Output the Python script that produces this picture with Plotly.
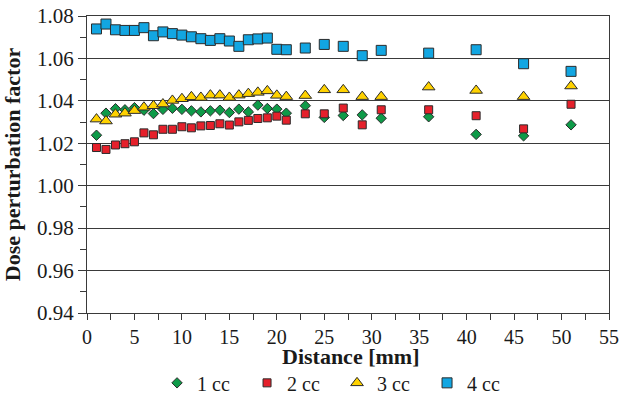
import plotly.graph_objects as go

distance = [1, 2, 3, 4, 5, 6, 7, 8, 9, 10, 11, 12, 13, 14, 15, 16, 17, 18, 19, 20, 21,
            23, 25, 27, 29, 31, 36, 41, 46, 51]

cc1 = [1.0238, 1.0342, 1.0363, 1.0358, 1.0368, 1.0356, 1.0340, 1.0360, 1.0365, 1.0360,
       1.0353, 1.0348, 1.0353, 1.0356, 1.0345, 1.0361, 1.0348, 1.0380, 1.0364, 1.0361,
       1.0342, 1.0377, 1.0322, 1.0331, 1.0334, 1.0318, 1.0325, 1.0242, 1.0235, 1.0287]

cc2 = [1.0180, 1.0171, 1.0192, 1.0198, 1.0207, 1.0249, 1.0240, 1.0266, 1.0266, 1.0278,
       1.0273, 1.0282, 1.0284, 1.0292, 1.0286, 1.0301, 1.0308, 1.0317, 1.0320, 1.0328,
       1.0309, 1.0339, 1.0339, 1.0366, 1.0287, 1.0358, 1.0358, 1.0330, 1.0268, 1.0384]

cc3 = [1.0314, 1.0305, 1.0337, 1.0342, 1.0354, 1.0370, 1.0377, 1.0385, 1.0402, 1.0410,
       1.0419, 1.0416, 1.0427, 1.0427, 1.0416, 1.0427, 1.0434, 1.0440, 1.0447, 1.0426,
       1.0420, 1.0425, 1.0452, 1.0452, 1.0420, 1.0420, 1.0465, 1.0449, 1.0420, 1.0470]

cc4 = [1.0739, 1.0762, 1.0735, 1.0732, 1.0732, 1.0745, 1.0707, 1.0725, 1.0717, 1.0710,
       1.0702, 1.0693, 1.0685, 1.0693, 1.0682, 1.0657, 1.0688, 1.0692, 1.0696, 1.0643,
       1.0641, 1.0649, 1.0666, 1.0657, 1.0613, 1.0638, 1.0625, 1.0641, 1.0575, 1.0539]

names = ["1 cc", "2 cc", "3 cc", "4 cc"]
series = [cc1, cc2, cc3, cc4]
symbols = ["diamond", "square", "triangle-up", "square"]
sizes = [8, 8, 11, 10]
colors = ["#0E9A48", "#E5202B", "#FFD200", "#12A6E2"]

x_title = "Distance [mm]"
y_title = "Dose perturbation factor"

FONT = "Liberation Serif"
fig = go.Figure()
for n, s, sym, sz, c in zip(names, series, symbols, sizes, colors):
    fig.add_trace(go.Scatter(
        x=distance, y=s, mode="markers", name=n,
        marker=dict(symbol=sym, size=sz, color=c,
                    line=dict(color="#2b2b2b", width=1)),
    ))

axcol = "#3a3a3a"
fig.update_layout(
    width=621, height=403,
    margin=dict(l=87, r=12, t=16, b=90, autoexpand=False),
    paper_bgcolor="white", plot_bgcolor="white",
    font=dict(family=FONT, size=20, color="#1a1a1a"),
    showlegend=True,
    legend=dict(orientation="h", x=0.479, xanchor="center",
                yref="container", y=0.05, yanchor="middle",
                font=dict(family=FONT, size=20), itemwidth=30, traceorder="normal",
                entrywidth=45, entrywidthmode="pixels"),
    xaxis=dict(
        range=[0, 55], dtick=5, tick0=0, showgrid=False, zeroline=False,
        showline=True, linecolor=axcol, linewidth=1.3, mirror=True,
        ticks="outside", ticklen=6, tickcolor=axcol, tickwidth=1.2,
        minor=dict(dtick=2.5, ticks="outside", ticklen=6, tickcolor=axcol, tickwidth=1.2),
        tickfont=dict(family=FONT, size=20), automargin=False,
    ),
    yaxis=dict(
        range=[0.94, 1.08], dtick=0.02, tick0=0.94, tickformat=".2f",
        showgrid=True, gridcolor=axcol, gridwidth=1.2, zeroline=False,
        showline=True, linecolor=axcol, linewidth=1.3, mirror=True,
        ticks="outside", ticklen=8, tickcolor=axcol, tickwidth=1.2,
        minor=dict(dtick=0.01, ticks="outside", ticklen=6, tickcolor=axcol, tickwidth=1.2, showgrid=False),
        tickfont=dict(family=FONT, size=21), automargin=False,
        title=dict(text="<b>" + y_title + "</b>", font=dict(family=FONT, size=22)),
    ),
    annotations=[dict(
        text="<b>" + x_title + "</b>", xref="paper", yref="paper",
        x=0.504, y=-0.145, xanchor="center", yanchor="middle",
        showarrow=False, font=dict(family=FONT, size=22, color="#1a1a1a"),
    )],
)

fig.write_html("out.html")
